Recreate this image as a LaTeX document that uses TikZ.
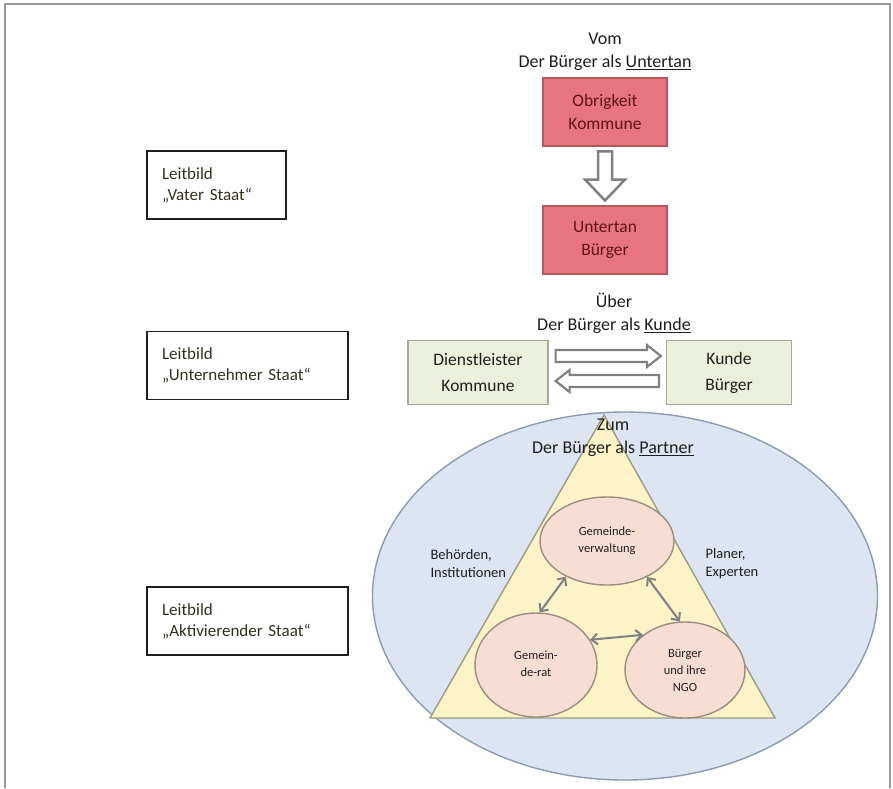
\documentclass[tikz,border=0pt]{standalone}
\usepackage{fontspec}
\setmainfont{Carlito}
\usetikzlibrary{arrows.meta, calc, shapes.geometric}
\definecolor{redfill}{HTML}{E8747F}
\definecolor{redline}{HTML}{B5585F}
\definecolor{redtext}{HTML}{5E1616}
\definecolor{greenfill}{HTML}{EBF0DC}
\definecolor{greenline}{HTML}{A8A8A0}
\definecolor{bluefill}{HTML}{DCE5F1}
\definecolor{blueline}{HTML}{8C9BB0}
\definecolor{yellowfill}{HTML}{FCF3C6}
\definecolor{yellowline}{HTML}{9C9A84}
\definecolor{pinkfill}{HTML}{F8DED2}
\definecolor{pinkline}{HTML}{9A8C80}
\definecolor{arrowgray}{HTML}{808080}
\definecolor{textdark}{HTML}{1E1E1E}
\definecolor{leittext}{HTML}{33301E}
\begin{document}
\begin{tikzpicture}[x=1pt,y=-1pt,
  heading/.style={align=center, text=textdark, font=\fontsize{18}{23}\selectfont},
  redbox/.style={draw=redline, fill=redfill, line width=1.2pt, minimum width=124pt, minimum height=68pt, align=center, text=redtext, font=\fontsize{17.5}{23}\selectfont},
  greenbox/.style={draw=greenline, fill=greenfill, line width=1.2pt, minimum height=64pt, align=center, text=textdark, font=\fontsize{17.5}{26}\selectfont},
  leitbox/.style={draw=textdark, line width=1.8pt, minimum height=68pt, inner xsep=15pt, align=left, text=leittext, font=\fontsize{17}{21}\selectfont},
  smallell/.style={ellipse, draw=pinkline, fill=pinkfill, line width=1.4pt, inner sep=0pt, align=center, text=textdark, font=\fontsize{12.5}{17}\selectfont},
  sidelabel/.style={align=left, text=textdark, font=\fontsize{14.5}{18}\selectfont},
  hollow/.style={draw=arrowgray, line width=2.5pt, fill=white, line join=miter},
  linkarrow/.style={draw=arrowgray, line width=2pt, {Straight Barb[length=6pt,width=11pt]}-{Straight Barb[length=6pt,width=11pt]}}
]
\useasboundingbox (0,0) rectangle (893,788);
% frame
\draw[draw=black!40, line width=1.6pt] (5,788) -- (5,4) -- (890,4) -- (890,788);

% top section
\node[heading] (vom) at (605,52) {Vom\\Der Bürger als \underline{Untertan}};
\node[redbox] (ob) at (605,112) {Obrigkeit\\Kommune};
\node[redbox] (ut) at (605,240) {Untertan\\Bürger};
\coordinate (a1) at ($(ob.south)!0.083!(ut.north)$);
\coordinate (a2) at ($(ob.south)!0.917!(ut.north)$);
\draw[hollow] ($(a1)+(-7,0)$) -- ($(a2)+(-7,-21)$) -- ($(a2)+(-20,-21)$) -- (a2)
  -- ($(a2)+(20,-21)$) -- ($(a2)+(7,-21)$) -- ($(a1)+(7,0)$) -- cycle;

% middle section
\node[heading] (ueber) at (614,313) {Über\\Der Bürger als \underline{Kunde}};
\node[greenbox, minimum width=140pt] (dk) at (478,372.5) {Dienstleister\\Kommune};
\node[greenbox, minimum width=125pt] (kb) at (729,372.5) {Kunde\\Bürger};
% upper arrow: Dienstleister -> Kunde
\coordinate (r1) at ($(dk.east)+(7,-16.5)$);
\coordinate (r2) at ($(kb.west)+(-5,-16.5)$);
\draw[hollow, line width=2.2pt] ($(r1)+(0,-6)$) -- ($(r2)+(-14,-6)$) -- ($(r2)+(-14,-11)$) -- (r2)
  -- ($(r2)+(-14,11)$) -- ($(r2)+(-14,6)$) -- ($(r1)+(0,6)$) -- cycle;
% lower arrow: Kunde -> Dienstleister
\coordinate (l1s) at ($(kb.west)+(-7,8.5)$);
\coordinate (l1e) at ($(dk.east)+(7,8.5)$);
\draw[hollow, line width=2.2pt] ($(l1s)+(0,-6)$) -- ($(l1e)+(14,-6)$) -- ($(l1e)+(14,-11)$) -- (l1e)
  -- ($(l1e)+(14,11)$) -- ($(l1e)+(14,6)$) -- ($(l1s)+(0,6)$) -- cycle;

% bottom section
\node[ellipse, draw=blueline, fill=bluefill, line width=1.4pt, minimum width=505pt, minimum height=368pt, inner sep=0pt] (big) at (625,596) {};
\coordinate (tA) at (604,415);
\coordinate (tL) at (430,718);
\coordinate (tR) at (775,718);
\draw[draw=yellowline, fill=yellowfill, line width=1.4pt, line join=miter] (tA) -- (tL) -- (tR) -- cycle;
\node[heading] (zum) at (613,438) {Zum\\Der Bürger als \underline{Partner}};

\node[smallell, minimum width=134pt, minimum height=88pt] (gv) at (607,541) {\raisebox{6pt}{\begin{tabular}{@{}c@{}}Gemeinde-\\verwaltung\end{tabular}}};
\node[smallell, minimum width=122pt, minimum height=104pt] (gr) at (536,665) {\raisebox{10pt}{\begin{tabular}{@{}c@{}}Gemein-\\de-rat\end{tabular}}};
\node[smallell, minimum width=120pt, minimum height=96pt] (bn) at (685,670) {Bürger\\und ihre\\NGO};

\draw[linkarrow] (gv.221) -- (gr.86);
\draw[linkarrow] (gv.318) -- (bn.96);
\draw[linkarrow] (gr.25) -- (bn.140);

\node[sidelabel, anchor=west] (beh) at (427,564) {Behörden,\\Institutionen};
\node[sidelabel, anchor=west] (pla) at (702,564) {Planer,\\Experten};

% Leitbild boxes
\node[leitbox, text width=109pt] (l1) at (216.5,185) {Leitbild\\„Vater Staat“};
\node[leitbox, text width=171pt] (l2) at (247.5,365.5) {Leitbild\\„Unternehmer Staat“};
\node[leitbox, text width=171pt] (l3) at (247.5,621) {Leitbild\\„Aktivierender Staat“};
\end{tikzpicture}
\end{document}
